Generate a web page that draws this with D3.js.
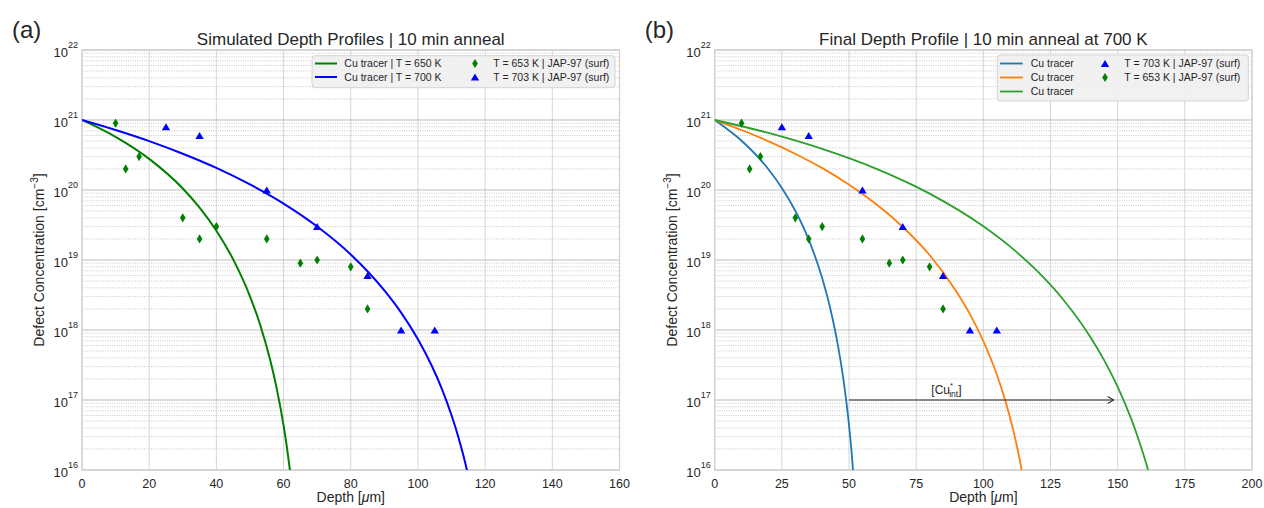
<!DOCTYPE html>
<html>
<head>
<meta charset="utf-8">
<script src="https://cdn.jsdelivr.net/npm/d3@7"></script>
<style>
  body { margin: 0; background: #fff; }
  text { font-family: "Liberation Sans", Arial, sans-serif; fill: #262626; }
</style>
</head>
<body>
<div id="chart"></div>
<script>
// Experimental points (JAP-97, surface), depth in um, concentration in cm^-3
var exp653Depth = [10, 13, 17, 30, 35, 40, 55, 65, 70, 80, 85];
var exp653Conc  = [9e20, 2e20, 3e20, 4e19, 2e19, 3e19, 2e19, 9e18, 1e19, 8e18, 2e18];
var exp703Depth = [25, 35, 55, 70, 85, 95, 105];
var exp703Conc  = [8e20, 6e20, 1e20, 3e19, 6e18, 1e18, 1e18];

// (a) simulated profiles (last point just below the axis, clipped)
var simA650Depth = [0, 10, 20, 30, 35, 40, 45, 50, 53, 56, 58, 60, 61, 62];
var simA650Conc  = [1e21, 5.74e20, 2.78e20, 1.05e20, 5.6e19, 2.62e19, 1.02e19, 3.03e18, 1.2e18, 3.75e17, 1.43e17, 4.33e16, 2.1e16, 9.1e15];
var simA700Depth = [0, 10, 20, 30, 40, 50, 60, 70, 80, 90, 95, 100, 104, 107, 110, 112, 114, 115];
var simA700Conc  = [1e21, 7.19e20, 4.99e20, 3.3e20, 2.07e20, 1.2e20, 6.4e19, 3.01e19, 1.2e19, 3.68e18, 1.77e18, 7.35e17, 3.16e17, 1.49e17, 6.05e16, 2.99e16, 1.31e16, 8.1e15];

// (b) final profiles
var simB1Depth = [0, 10, 17, 20, 25, 30, 35, 40, 43, 46, 48, 50, 51, 52];
var simB1Conc  = [1e21, 5.06e20, 2.72e20, 1.98e20, 1.07e20, 5.05e19, 1.95e19, 5.52e18, 2.04e18, 5.66e17, 1.86e17, 4.36e16, 1.72e16, 5.4e15];
var simB2Depth = [0, 10, 19.9, 29.9, 39.9, 49.9, 59.8, 69.8, 79.8, 89.7, 94.7, 99.7, 103.7, 106.7, 109.7, 111.7, 113.7, 114.7];
var simB2Conc  = [1e21, 7.19e20, 4.99e20, 3.3e20, 2.07e20, 1.2e20, 6.4e19, 3.01e19, 1.2e19, 3.68e18, 1.77e18, 7.35e17, 3.16e17, 1.49e17, 6.05e16, 2.99e16, 1.31e16, 8.1e15];
var simB3Depth = [0, 20, 40, 60, 80, 100, 110, 120, 130, 140, 145, 150, 155, 158, 161, 163];
var simB3Conc  = [1e21, 6.53e20, 3.86e20, 2.02e20, 8.87e19, 3.03e19, 1.55e19, 6.97e18, 2.64e18, 7.76e17, 3.68e17, 1.54e17, 5.41e16, 2.58e16, 1.1e16, 5.7e15];

// [Cu*_int] arrow in (b): from, to (depth) at this concentration
var arrowDepth = [50, 150];
var arrowConc = 1e17;

var xTicksA = [0, 20, 40, 60, 80, 100, 120, 140, 160];
var xTicksB = [0, 25, 50, 75, 100, 125, 150, 175, 200];
var yDecades = [16, 17, 18, 19, 20, 21, 22];

function zip(xs, ys) { return xs.map(function(d, i) { return [d, ys[i]]; }); }

var triPath = "M0,-3.6L4.2,3.4L-4.2,3.4Z";
var diaPath = "M0,-4.6L2.8,0L0,4.6L-2.8,0Z";

var svg = d3.select("#chart").append("svg")
    .attr("width", 1264)
    .attr("height", 508);
svg.append("rect").attr("width", 1264).attr("height", 508).attr("fill", "#fff");

var panels = [
  {
    id: "a", left: 82, right: 619.5, xMax: 160, xTicks: xTicksA, tag: "(a)",
    title: "Simulated Depth Profiles | 10 min anneal",
    lines: [
      { pts: zip(simA650Depth, simA650Conc), color: "#008000", label: "Cu tracer | T = 650 K" },
      { pts: zip(simA700Depth, simA700Conc), color: "#0000ff", label: "Cu tracer | T = 700 K" }
    ],
    marks: [
      { pts: zip(exp653Depth, exp653Conc), path: diaPath, color: "#008000", label: "T = 653 K | JAP-97 (surf)" },
      { pts: zip(exp703Depth, exp703Conc), path: triPath, color: "#0000ff", label: "T = 703 K | JAP-97 (surf)" }
    ],
    legend: { x: 312, y: 55.7, w: 303, h: 32, rows: [63.5, 77], lineX: [3, 25], textX: 32.3, markX: 163, markTextX: 181.3 },
    lw: 2
  },
  {
    id: "b", left: 714.7, right: 1252, xMax: 200, xTicks: xTicksB, tag: "(b)",
    title: "Final Depth Profile | 10 min anneal at 700 K",
    lines: [
      { pts: zip(simB1Depth, simB1Conc), color: "#1f77b4", label: "Cu tracer" },
      { pts: zip(simB2Depth, simB2Conc), color: "#ff7f0e", label: "Cu tracer" },
      { pts: zip(simB3Depth, simB3Conc), color: "#2ca02c", label: "Cu tracer" }
    ],
    marks: [
      { pts: zip(exp703Depth, exp703Conc), path: triPath, color: "#0000ff", label: "T = 703 K | JAP-97 (surf)" },
      { pts: zip(exp653Depth, exp653Conc), path: diaPath, color: "#008000", label: "T = 653 K | JAP-97 (surf)" }
    ],
    legend: { x: 997.3, y: 55, w: 251, h: 46, rows: [63.5, 77.5, 91.5], lineX: [2.7, 25.4], textX: 33.4, markX: 107.7, markTextX: 127 },
    lw: 1.8,
    arrow: true
  }
];

panels.forEach(drawPanel);

function drawPanel(p) {
  var top = 50, bottom = 470;
  var x = d3.scaleLinear().domain([0, p.xMax]).range([p.left, p.right]);
  var y = d3.scaleLog().domain([1e16, 1e22]).range([bottom, top]);
  var g = svg.append("g");

  g.append("clipPath").attr("id", "clip-" + p.id)
    .append("rect")
      .attr("x", p.left).attr("y", top)
      .attr("width", p.right - p.left).attr("height", bottom - top);

  // minor y grid (dotted)
  var minor = [];
  yDecades.slice(0, -1).forEach(function(e) {
    for (var k = 2; k < 10; k++) minor.push(k * Math.pow(10, e));
  });
  g.selectAll(".minor").data(minor).enter().append("line")
      .attr("x1", p.left).attr("x2", p.right)
      .attr("y1", function(d) { return y(d); }).attr("y2", function(d) { return y(d); })
      .attr("stroke", "#bdbdbd").attr("stroke-width", 0.8)
      .attr("stroke-dasharray", "1,1.3");

  // major grid
  g.selectAll(".vgrid").data(p.xTicks).enter().append("line")
      .attr("x1", function(d) { return x(d); }).attr("x2", function(d) { return x(d); })
      .attr("y1", top).attr("y2", bottom)
      .attr("stroke", "#d6d6d6").attr("stroke-width", 1);
  g.selectAll(".hgrid").data(yDecades).enter().append("line")
      .attr("x1", p.left).attr("x2", p.right)
      .attr("y1", function(d) { return y(Math.pow(10, d)); })
      .attr("y2", function(d) { return y(Math.pow(10, d)); })
      .attr("stroke", "#bcbcbc").attr("stroke-width", 1);

  // frame
  g.append("rect")
      .attr("x", p.left).attr("y", top)
      .attr("width", p.right - p.left).attr("height", bottom - top)
      .attr("fill", "none").attr("stroke", "#d0d0d0").attr("stroke-width", 1.25);

  // simulated profiles
  var line = d3.line()
      .x(function(d) { return x(d[0]); })
      .y(function(d) { return y(d[1]); })
      .curve(d3.curveMonotoneX);
  p.lines.forEach(function(s) {
    g.append("path").attr("d", line(s.pts))
        .attr("clip-path", "url(#clip-" + p.id + ")")
        .attr("fill", "none").attr("stroke", s.color).attr("stroke-width", p.lw);
  });

  // experimental points
  p.marks.forEach(function(m) {
    g.selectAll(null).data(m.pts).enter().append("path")
        .attr("d", m.path)
        .attr("transform", function(d) { return "translate(" + x(d[0]) + "," + y(d[1]) + ")"; })
        .attr("fill", m.color);
  });

  // x tick labels
  g.selectAll(".xt").data(p.xTicks).enter().append("text")
      .attr("x", function(d) { return x(d); })
      .attr("y", 488)
      .attr("text-anchor", "middle")
      .style("font-size", "12.5px")
      .text(function(d) { return d; });

  // y tick labels 10^n
  var yt = g.selectAll(".yt").data(yDecades).enter().append("text")
      .attr("x", p.left - 4)
      .attr("y", function(d) { return y(Math.pow(10, d)) + 7; })
      .attr("text-anchor", "end")
      .style("font-size", "13px");
  yt.append("tspan").text("10");
  yt.append("tspan").attr("dy", -9).style("font-size", "9px")
      .text(function(d) { return d; });

  // axis labels
  var xl = g.append("text")
      .attr("x", (p.left + p.right) / 2).attr("y", 502)
      .attr("text-anchor", "middle")
      .style("font-size", "14px");
  xl.append("tspan").text("Depth [");
  xl.append("tspan").style("font-style", "italic").text("μ");
  xl.append("tspan").text("m]");

  var yl = g.append("text")
      .attr("transform", "translate(" + (p.left - 38) + "," + ((top + bottom) / 2) + ") rotate(-90)")
      .attr("text-anchor", "middle")
      .style("font-size", "14px");
  yl.append("tspan").text("Defect Concentration [cm");
  yl.append("tspan").attr("dy", -6).style("font-size", "10px").text("−3");
  yl.append("tspan").attr("dy", 6).text("]");

  // title and panel tag
  g.append("text")
      .attr("x", (p.left + p.right) / 2).attr("y", 45)
      .attr("text-anchor", "middle")
      .style("font-size", "17px")
      .text(p.title);
  g.append("text")
      .attr("x", p.left - 70).attr("y", 38)
      .style("font-size", "24px")
      .text(p.tag);

  // legend
  var L = p.legend;
  var lg = g.append("g").attr("transform", "translate(" + L.x + ",0)");
  lg.append("rect")
      .attr("x", 0).attr("y", L.y).attr("width", L.w).attr("height", L.h)
      .attr("rx", 3)
      .attr("fill", "#efefef").attr("fill-opacity", 0.9)
      .attr("stroke", "#d4d4d4").attr("stroke-width", 1);
  p.lines.forEach(function(s, i) {
    lg.append("line")
        .attr("x1", L.lineX[0]).attr("x2", L.lineX[1])
        .attr("y1", L.rows[i]).attr("y2", L.rows[i])
        .attr("stroke", s.color).attr("stroke-width", p.lw);
    lg.append("text").attr("x", L.textX).attr("y", L.rows[i] + 3.7)
        .style("font-size", "10.5px").text(s.label);
  });
  p.marks.forEach(function(m, i) {
    lg.append("path").attr("d", m.path)
        .attr("transform", "translate(" + L.markX + "," + L.rows[i] + ")")
        .attr("fill", m.color);
    lg.append("text").attr("x", L.markTextX).attr("y", L.rows[i] + 3.7)
        .style("font-size", "10.5px").text(m.label);
  });

  // [Cu*_int] annotation arrow
  if (p.arrow) {
    var ay = y(arrowConc);
    var x0 = x(arrowDepth[0]), x1 = x(arrowDepth[1]) - 4;
    g.append("line")
        .attr("x1", x0).attr("x2", x1).attr("y1", ay).attr("y2", ay)
        .attr("stroke", "#333").attr("stroke-width", 1.1);
    g.append("path")
        .attr("d", "M" + (x1 - 6) + "," + (ay - 3.5) + "L" + x1 + "," + ay + "L" + (x1 - 6) + "," + (ay + 3.5))
        .attr("fill", "none").attr("stroke", "#333").attr("stroke-width", 1.1);
    var at = g.append("text")
        .attr("x", x((arrowDepth[0] + arrowDepth[1]) / 2) - 52)
        .attr("y", ay - 6)
        .style("font-size", "12px");
    at.append("tspan").text("[Cu");
    at.append("tspan").attr("dy", -6).style("font-size", "8px").text("*");
    at.append("tspan").attr("dx", -4).attr("dy", 9).style("font-size", "8.5px").text("int");
    at.append("tspan").attr("dy", -3).text("]");
  }
}
</script>
</body>
</html>
